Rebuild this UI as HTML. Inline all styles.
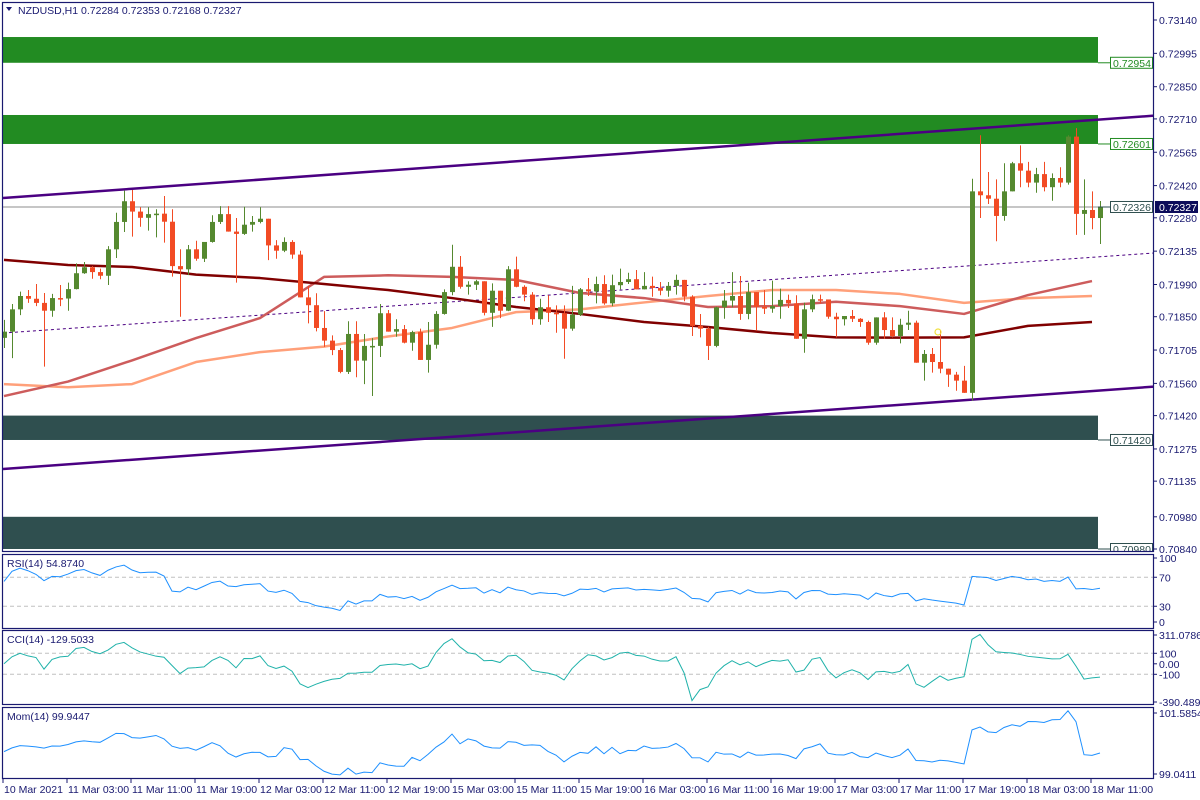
<!DOCTYPE html>
<html><head><meta charset="utf-8"><style>
html,body{margin:0;padding:0;background:#fff;}
svg{display:block;font-family:"Liberation Sans",sans-serif;}
</style></head><body>
<svg id="chart" width="1200" height="800" viewBox="0 0 1200 800" xmlns="http://www.w3.org/2000/svg">
<rect x="0" y="0" width="1200" height="800" fill="#fff"/>
<defs>
<clipPath id="cMain"><rect x="3" y="3" width="1151" height="548"/></clipPath>
<clipPath id="cRsi"><rect x="3" y="555" width="1151" height="73"/></clipPath>
<clipPath id="cCci"><rect x="3" y="631" width="1151" height="73"/></clipPath>
<clipPath id="cMom"><rect x="3" y="708" width="1151" height="70"/></clipPath>
</defs>
<g id="gMain" clip-path="url(#cMain)"></g>
<g id="gRsi" clip-path="url(#cRsi)"></g>
<g id="gCci" clip-path="url(#cCci)"></g>
<g id="gMom" clip-path="url(#cMom)"></g>
<g id="gAxes"></g>
<text x="18" y="14" font-size="10.5" fill="#191970">NZDUSD,H1  0.72284 0.72353 0.72168 0.72327</text>
<path d="M6,7 L12,7 L9,11 Z" fill="#191970"/>
<text x="7" y="567" font-size="10.5" fill="#191970">RSI(14) 54.8740</text>
<text x="7" y="643" font-size="10.5" fill="#191970">CCI(14) -129.5033</text>
<text x="7" y="720" font-size="10.5" fill="#191970">Mom(14) 99.9447</text>
</svg>
<script>
const firstOpen = 71758;
const closes = [71785,71882,71940,71928,71910,71876,71931,71929,71970,72039,
72065,72044,72028,72143,72262,72352,72307,72280,72296,72298,
72263,72070,72056,72143,72102,72175,72262,72296,72220,72210,
72250,72262,72276,72160,72137,72175,72120,71934,71900,71801,
71746,71705,71610,71775,71659,71723,71723,71865,71785,71796,
71737,71783,71662,71728,71862,71957,72067,71980,71989,72004,
71867,71963,71876,72056,71980,71946,71839,71891,71867,71865,
71798,71859,71969,71960,71992,71908,71987,72001,72013,71969,
71984,71975,71963,71984,72010,71937,71810,71798,71723,71891,
71920,71940,71862,71957,71893,71885,71896,71923,71908,71754,
71882,71926,71925,71850,71839,71853,71841,71827,71737,71847,
71792,71766,71815,71824,71650,71688,71653,71624,71598,71572,
71519,72395,72378,72363,72288,72395,72517,72485,72433,72470,
72413,72453,72433,72633,72297,72314,72279,72327];
const highs = [71836,71905,71959,71966,71992,71953,71949,71988,71998,72082,
72088,72070,72059,72157,72302,72398,72401,72326,72326,72317,
72375,72317,72143,72162,72180,72175,72291,72331,72331,72279,
72328,72288,72326,72276,72183,72195,72183,72137,71984,71952,
71874,71769,71714,71830,71830,71775,71757,71905,71879,71839,
71814,71789,71798,71827,71874,71969,72163,72114,72004,72010,
72001,71995,71963,72070,72111,71987,71957,71928,71943,71899,
71899,71984,71975,72018,72024,72030,72033,72059,72041,72053,
72044,72024,72001,72001,72033,72010,71943,71862,71806,71893,
71966,72044,72027,71998,71957,71966,72007,71972,71946,71943,
71911,71946,71946,71923,71867,71853,71879,71844,71833,71847,
71870,71847,71841,71876,71833,71705,71714,71792,71624,71610,
71636,72450,72639,72479,72447,72517,72523,72595,72523,72497,
72523,72473,72500,72639,72670,72447,72395,72353];
const lows = [71714,71670,71857,71910,71896,71633,71850,71896,71876,71969,
72036,72015,72013,71988,72105,72218,72198,72241,72224,72195,
72172,72024,71850,72031,72093,72088,72172,72253,72220,71998,
72206,72220,72256,72096,72102,72131,72102,71934,71821,71786,
71719,71683,71604,71601,71587,71557,71505,71675,71785,71763,
71734,71702,71662,71607,71711,71859,71943,71972,71946,71966,
71856,71806,71844,71874,71978,71917,71815,71815,71827,71780,
71667,71789,71853,71940,71908,71902,71896,71969,71992,71969,
71969,71937,71943,71937,71946,71917,71766,71760,71662,71717,
71841,71891,71836,71839,71789,71862,71867,71841,71888,71754,
71693,71870,71908,71841,71760,71812,71827,71806,71728,71728,
71754,71760,71734,71792,71650,71572,71607,71604,71545,71528,
71519,71485,72279,72340,72178,72267,72395,72413,72413,72389,
72395,72354,72413,72424,72206,72206,72230,72166];
// moving averages sampled every 8 bars (bar 0,8,...,136)
const maSlow = [72097,72075,72066,72033,72018,71992,71966,71931,71892,71862,71827,71805,71779,71760,71759,71760,71810,71827];
const maMid = [71505,71568,71660,71757,71844,72023,72030,72023,72010,71953,71931,71892,71896,71915,71896,71862,71944,72005];
const maFast = [71557,71543,71557,71653,71696,71720,71764,71801,71870,71882,71912,71940,71966,71966,71949,71910,71931,71940];
const zones = [[73066,72954,'#228B22','#228B22','0.72954'],[72727,72601,'#228B22','#228B22','0.72601'],[71420,71314,'#2F4F4F','#2F4F4F','0.71420'],[70980,70840,'#2F4F4F','#2F4F4F','0.70980']];
const priceTicks = ['0.73140','0.72995','0.72850','0.72710','0.72565','0.72420','0.72280','0.72135','0.71990','0.71850','0.71705','0.71560','0.71420','0.71275','0.71135','0.70980','0.70840'];
const timeLabels = ['10 Mar 2021','11 Mar 03:00','11 Mar 11:00','11 Mar 19:00','12 Mar 03:00','12 Mar 11:00','12 Mar 19:00','15 Mar 03:00','15 Mar 11:00','15 Mar 19:00','16 Mar 03:00','16 Mar 11:00','16 Mar 19:00','17 Mar 03:00','17 Mar 11:00','17 Mar 19:00','18 Mar 03:00','18 Mar 11:00'];
const upperChannel = [72366,72724];
const lowerChannel = [71188,71546];
const midTrend = [71779,72127];
const lastPrice = 72327;

const NS='http://www.w3.org/2000/svg';
function mk(tag, attrs, parent){const e=document.createElementNS(NS,tag);for(const k in attrs)e.setAttribute(k,attrs[k]);parent.appendChild(e);return e;}
const X0=4, STEP=8;
const xOf=i=>X0+i*STEP;
const yP=p=>20+(73140-p)*0.23;
const gMain=document.getElementById('gMain');
const gAx=document.getElementById('gAxes');
const N=closes.length;

zones.forEach(z=>{
  const r=mk('rect',{x:3,y:yP(z[0]),width:1095,height:yP(z[1])-yP(z[0]),fill:z[2]},gMain);
  
  
});
const cl=mk('line',{x1:3,x2:1154,y1:yP(lastPrice),y2:yP(lastPrice),stroke:'#8c8c8c','stroke-width':1},gMain);


function trend(arr,name,extra){
  const l=mk('line',Object.assign({x1:3,x2:1154,y1:yP(arr[0]),y2:yP(arr[1]),stroke:'#4B0082'},extra),gMain);
  
  
}
trend(midTrend,'mid-trendline',{'stroke-width':1,'stroke-dasharray':'3,3'});
trend(upperChannel,'upper-channel-line',{'stroke-width':2.5});
trend(lowerChannel,'lower-channel-line',{'stroke-width':2.5});
function ma(arr,color,name){
  const pts=arr.map((v,k)=>xOf(k*8)+','+yP(v)).join(' ');
  const p=mk('polyline',{points:pts,fill:'none',stroke:color,'stroke-width':2.5,'stroke-linejoin':'round'},gMain);
  
  
}
ma(maFast,'#FFA07A','ma-fast-line');
ma(maMid,'#CD5C5C','ma-mid-line');
ma(maSlow,'#800000','ma-slow-line');
for(let i=0;i<N;i++){
  const o=i===0?firstOpen:closes[i-1], c=closes[i];
  const h=Math.max(highs[i],o,c), l=Math.min(lows[i],o,c);
  const up=c>=o, col=up?'#55892f':'#f24b24';
  const x=xOf(i);
  const w=mk('line',{x1:x+0.5,x2:x+0.5,y1:yP(h),y2:yP(l),stroke:col,'stroke-width':1},gMain);
  
  
  const top=yP(Math.max(o,c)), bot=yP(Math.min(o,c));
  const b=mk('rect',{x:x-2,y:top,width:5,height:Math.max(1.5,bot-top),fill:col},gMain);
  
  
}
zones.forEach(z=>{
  const y=yP(z[1]);
  mk('line',{x1:1098,x2:1110,y1:y,y2:y,stroke:z[3],'stroke-width':1},gMain);
  const bx=mk('rect',{x:1110.5,y:y-5.5,width:42,height:11,fill:'#fff',stroke:z[3],'stroke-width':1},gMain);
  
  
  const t=mk('text',{x:1113,y:y+4,'font-size':10.5,fill:z[3]},gMain);t.textContent=z[4];
});
{
  const y=yP(lastPrice);
  mk('line',{x1:1098,x2:1110,y1:y,y2:y,stroke:'#2F4F4F'},gMain);
  mk('rect',{x:1110.5,y:y-5.5,width:42,height:11,fill:'#fff',stroke:'#2F4F4F'},gMain);
  const t=mk('text',{x:1113,y:y+4,'font-size':10.5,fill:'#2F4F4F'},gMain);t.textContent='0.72326';
}
mk('circle',{cx:938,cy:332,r:3,fill:'none',stroke:'#f0e040','stroke-width':1.2},gMain);

const rsi=[], cci=[], mom=[];
{
  let ag=6, al=4.5;
  for(let i=0;i<N;i++){
    const prev=i===0?firstOpen:closes[i-1];
    const d=closes[i]-prev, g=Math.max(d,0), ls=Math.max(-d,0);
    ag=(ag*13+g)/14; al=(al*13+ls)/14;
    rsi.push(al===0?100:100-100/(1+ag/al));
    const tp=k=>(Math.max(highs[k],closes[k])+Math.min(lows[k],closes[k])+closes[k])/3;
    const s=Math.max(0,i-13); let sum=0; for(let k=s;k<=i;k++)sum+=tp(k);
    const m=sum/(i-s+1); let md=0; for(let k=s;k<=i;k++)md+=Math.abs(tp(k)-m); md/=(i-s+1);
    cci.push(md===0?0:(tp(i)-m)/(0.015*md));
    mom.push(closes[i]/closes[Math.max(0,i-14)]*100);
  }
}
function indLine(gid,vals,yf,color,name){
  const g=document.getElementById(gid);
  const p=mk('polyline',{points:vals.map((v,i)=>xOf(i)+','+yf(v)).join(' '),fill:'none',stroke:color,'stroke-width':1},g);
  
  
  return g;
}
const yR=v=>628-v*0.725;
const yC=v=>653.3-(v-100)*0.105;
const yM=v=>778-(v-99.0411)/(101.5854-99.0411)*70;
[70,30].forEach(v=>mk('line',{x1:3,x2:1154,y1:yR(v),y2:yR(v),stroke:'#c0c0c0','stroke-dasharray':'4,3'},document.getElementById('gRsi')));
[100,-100].forEach(v=>mk('line',{x1:3,x2:1154,y1:yC(v),y2:yC(v),stroke:'#c0c0c0','stroke-dasharray':'4,3'},document.getElementById('gCci')));
indLine('gRsi',rsi,yR,'#1E90FF','rsi-line');
indLine('gCci',cci,yC,'#20B2AA','cci-line');
indLine('gMom',mom,yM,'#1E90FF','momentum-line');

[[2,551],[554,628],[630,704],[707,778]].forEach((p,k)=>{
  const r=mk('rect',{x:2.5,y:p[0]+0.5,width:1151,height:p[1]-p[0],fill:'none',stroke:'#191970','stroke-width':1.2},gAx);
  
  
});
priceTicks.forEach(s=>{
  const y=yP(Math.round(parseFloat(s)*100000));
  mk('line',{x1:1154,x2:1157,y1:y,y2:y,stroke:'#191970'},gAx);
  const t=mk('text',{x:1159,y:y+4,'font-size':10.5,fill:'#191970'},gAx);
  
  
  t.textContent=s;
});
{
  const y=yP(lastPrice);
  const r=mk('rect',{x:1155,y:y-6,width:43,height:12,fill:'#0b0b5a'},gAx);
  
  
  const t=mk('text',{x:1159,y:y+4,'font-size':10.5,fill:'#fff'},gAx);t.textContent='0.72327';
}
const indTicks=[[558,'100'],[yR(70),'70'],[yR(30),'30'],[622,'0'],[635,'311.0786'],[yC(100),'100'],[yC(0),'0.00'],[yC(-100),'-100'],[702,'-390.4894'],[713,'101.5854'],[774,'99.0411']];
indTicks.forEach(tk=>{
  mk('line',{x1:1154,x2:1157,y1:tk[0],y2:tk[0],stroke:'#191970'},gAx);
  const t=mk('text',{x:1159,y:tk[0]+4,'font-size':10.5,fill:'#191970'},gAx);
  
  
  t.textContent=tk[1];
});
timeLabels.forEach((s,k)=>{
  const x=3+k*64;
  mk('line',{x1:x,x2:x,y1:778,y2:783,stroke:'#191970'},gAx);
  const t=mk('text',{x:x+1,y:793,'font-size':10.5,fill:'#191970'},gAx);
  
  
  t.textContent=s;
});
</script>
</body></html>
